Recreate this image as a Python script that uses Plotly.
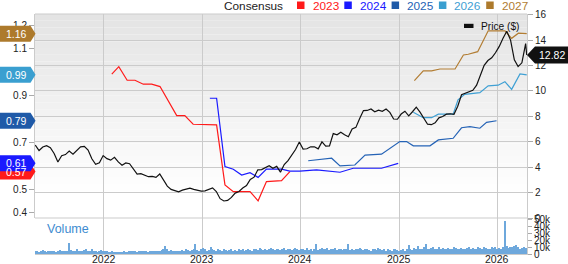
import pandas as pd
import plotly.graph_objects as go

# ---------------- data ----------------
PRICE_START = "2021-04-22"          # biweekly closes
price = [5.73, 5.31, 5.59, 5.69, 5.53, 5.08, 4.41, 4.90, 4.99, 5.26,
         5.02, 5.29, 5.60, 5.64, 5.35, 4.66, 4.23, 4.34, 4.91, 4.67,
         4.55, 4.77, 4.41, 4.15, 4.33, 4.27, 3.87, 3.46, 3.49, 3.34,
         3.25, 3.28, 3.20, 3.46, 2.94, 2.51, 2.25, 2.13, 2.06, 2.19,
         2.30, 2.35, 2.25, 2.16, 2.12, 2.14, 2.24, 2.37, 2.08, 1.52,
         1.34, 1.38, 1.62, 1.96, 2.09, 2.36, 2.55, 3.03, 3.21, 3.79,
         3.81, 3.93, 4.11, 3.91, 4.06, 3.61, 4.21, 4.51, 4.91, 5.39,
         5.98, 5.42, 5.45, 5.60, 5.60, 5.44, 5.99, 5.66, 5.67, 6.64,
         6.54, 6.74, 6.55, 6.39, 7.00, 7.13, 7.83, 8.45, 8.46, 8.58,
         8.36, 8.49, 8.40, 8.57, 8.31, 7.79, 7.77, 8.18, 8.40, 8.04,
         8.36, 8.72, 8.33, 7.90, 7.38, 7.34, 7.49, 7.88, 7.99, 8.17,
         8.20, 8.16, 8.79, 9.70, 9.80, 9.89, 10.05, 10.45, 11.22, 12.01,
         12.39, 12.60, 13.00, 13.50, 14.14, 14.70, 14.00, 12.45, 11.91, 12.21,
         13.72]
PRICE_LAST_DATE = "2026-04-20"
PRICE_LAST = 12.82

c2023_dates = ["2022-01-31", "2022-02-26", "2022-03-29", "2022-04-27", "2022-05-28",
               "2022-06-28", "2022-07-29", "2022-09-29", "2022-10-29", "2022-11-29",
               "2023-02-24", "2023-03-27", "2023-04-27", "2023-06-28", "2023-07-28",
               "2023-08-28", "2023-10-23", "2023-11-23"]
c2023 = [0.991, 1.023, 0.965, 0.965, 0.948, 0.948, 0.938, 0.814, 0.814, 0.777,
         0.774, 0.518, 0.489, 0.489, 0.450, 0.532, 0.536, 0.575]

c2024_dates = ["2023-01-30", "2023-02-24", "2023-03-27", "2023-04-27", "2023-05-28",
               "2023-06-28", "2023-07-28", "2023-08-28", "2023-10-23", "2023-11-23",
               "2023-12-30", "2024-03-01", "2024-05-27", "2024-07-15", "2024-10-28",
               "2024-12-29"]
c2024 = [0.888, 0.888, 0.596, 0.585, 0.560, 0.570, 0.550, 0.585, 0.585, 0.577,
         0.577, 0.582, 0.572, 0.589, 0.589, 0.610]

c2025_dates = ["2024-01-30", "2024-03-01", "2024-04-26", "2024-05-27", "2024-07-21",
               "2024-08-28", "2024-10-28", "2025-01-04", "2025-01-29", "2025-02-23",
               "2025-04-26", "2025-05-27", "2025-07-21", "2025-08-21", "2025-09-21",
               "2025-10-28", "2025-11-22", "2025-12-29"]
c2025 = [0.621, 0.624, 0.632, 0.599, 0.603, 0.645, 0.649, 0.703, 0.703, 0.685,
         0.685, 0.710, 0.717, 0.762, 0.767, 0.760, 0.785, 0.792]

c2026_dates = ["2025-02-23", "2025-04-01", "2025-05-02", "2025-05-27", "2025-07-21",
               "2025-08-08", "2025-09-02", "2025-09-27", "2025-10-28", "2025-11-28",
               "2026-01-04", "2026-01-29", "2026-02-23", "2026-03-26", "2026-04-20"]
c2026 = [0.828, 0.805, 0.805, 0.820, 0.820, 0.881, 0.905, 0.909, 0.912, 0.941,
         0.944, 0.959, 0.926, 0.992, 0.988]

c2027_dates = ["2025-02-27", "2025-04-01", "2025-05-02", "2025-06-02", "2025-07-28",
               "2025-08-28", "2025-09-15", "2025-10-20", "2025-11-28", "2026-01-29",
               "2026-02-23", "2026-03-20", "2026-04-20"]
c2027 = [0.963, 1.005, 1.005, 1.013, 1.013, 1.073, 1.076, 1.087, 1.176, 1.176,
         1.144, 1.166, 1.164]

VOL_START = "2021-04-22"            # weekly volume, thousands of shares
vol_2021 = [4, 5, 3, 4, 6, 4, 3, 5, 4, 4, 5, 3, 4, 6, 5, 4, 5, 4, 16, 6, 4, 5, 7, 4, 5,
            4, 6, 8, 5, 4, 7, 5, 4, 3, 5, 6, 4]
vol_2022 = [5, 4, 3, 3, 4, 2, 3, 3, 2, 3, 4, 3, 3, 5, 4, 4, 5, 3, 4, 5, 4, 4, 5, 3, 4, 4,
            4, 5, 4, 5, 6, 8, 12, 7, 5, 6, 4, 5, 5, 4, 5, 6, 5, 7, 6, 5, 6, 8, 14, 6, 5, 7]
vol_2023 = [9, 7, 5, 6, 10, 8, 6, 5, 7, 6, 5, 8, 6, 5, 6, 7, 5, 6, 5, 7, 6, 8, 5, 6, 7, 6,
            5, 7, 8, 6, 9, 7, 6, 8, 6, 7, 9, 8, 6, 7, 8, 6, 7, 9, 6, 8, 7, 6, 8, 9, 7, 6]
vol_2024 = [7, 8, 6, 9, 6, 7, 5, 8, 15, 6, 7, 9, 8, 7, 9, 6, 8, 7, 9, 6, 7, 8, 6, 7, 8, 15,
            6, 7, 6, 8, 7, 9, 8, 6, 7, 8, 6, 5, 7, 8, 6, 9, 7, 6, 8, 5, 7, 6, 5, 7, 8, 6]
vol_2025 = [5, 6, 7, 5, 8, 13, 7, 6, 9, 8, 12, 7, 8, 10, 14, 8, 7, 9, 11, 8, 7, 10, 8, 9, 7, 8,
            9, 7, 8, 10, 9, 7, 8, 9, 8, 7, 9, 10, 8, 9, 7, 8, 10, 9, 8, 11, 9, 7, 8, 10, 9, 11]
vol_2026 = [8, 9, 7, 10, 48, 12, 9, 10, 11, 12, 13, 10, 8, 9, 10, 9]

years = ["2022", "2023", "2024", "2025", "2026"]
vol_ticks = [0, 10000, 20000, 30000, 40000, 50000]
vol_ticktext = ["0", "10k", "20k", "30k", "40k", "50k"]
left_ticks = [0.4, 0.5, 0.6, 0.7, 0.8, 0.9, 1.0, 1.1, 1.2]
right_ticks = [0, 2, 4, 6, 8, 10, 12, 14, 16]

# ---------------- figure ----------------
FONT = "Liberation Sans, Arial, sans-serif"
GRID = "#cbcbcb"
COL = {"2023": "#ff1a1a", "2024": "#1a1aff", "2025": "#2563b6",
       "2026": "#3fa0d4", "2027": "#b27d33"}
BADGE = {"2023": "#ff1a1a", "2024": "#1a1aff", "2025": "#1f5aa8",
         "2026": "#3a9fd0", "2027": "#ad7a2c"}

W, H = 568, 264
L, R, T, B = 35, 41, 14, 10
PW, PH = W - L - R, H - T - B
SPLIT = 36 / PH  # volume panel fraction


def px(x):
    return (x - L) / PW


def py(y):
    return (H - B - y) / PH


price_dates = list(pd.date_range(PRICE_START, periods=len(price), freq="14D")) + [pd.Timestamp(PRICE_LAST_DATE)]
price_vals = price + [PRICE_LAST]
volume = [v * 1000 for v in vol_2021 + vol_2022 + vol_2023 + vol_2024 + vol_2025 + vol_2026]
vol_dates = pd.date_range(VOL_START, periods=len(volume), freq="7D")

fig = go.Figure()

# background gradient for the price panel
nb = 30
for i in range(nb):
    f = i / (nb - 1)
    c = int(228 + (255 - 228) * min(1.0, f * 1.15))
    fig.add_shape(type="rect", xref="paper", yref="paper", x0=0, x1=1,
                  y0=1 - (1 - SPLIT) * (i + 1) / nb, y1=1 - (1 - SPLIT) * i / nb,
                  fillcolor=f"rgb({c},{c},{c})", line_width=0, layer="below")

cons = [("2023", c2023_dates, c2023), ("2024", c2024_dates, c2024),
        ("2025", c2025_dates, c2025), ("2026", c2026_dates, c2026),
        ("2027", c2027_dates, c2027)]
for name, d, v in cons:
    fig.add_trace(go.Scatter(x=pd.to_datetime(d), y=v, mode="lines", name=name,
                             line=dict(color=COL[name], width=1.2), yaxis="y",
                             showlegend=False, hoverinfo="skip"))

fig.add_trace(go.Scatter(x=price_dates, y=price_vals, mode="lines", name="Price ($)",
                         line=dict(color="#111111", width=1.2), yaxis="y2",
                         showlegend=False))

fig.add_trace(go.Bar(x=vol_dates, y=volume, yaxis="y3", marker_color="#6ea8dc",
                     marker_line_width=0, width=4.6 * 86400000, showlegend=False))

tickfont = dict(family=FONT, size=10, color="#222")
fig.update_layout(
    width=W, height=H, margin=dict(l=L, r=R, t=T, b=B, autoexpand=False),
    paper_bgcolor="white", plot_bgcolor="white", bargap=0,
    xaxis=dict(type="date", range=["2021-04-21", "2026-04-21"], anchor="y3",
               tickvals=[pd.Timestamp(y + "-01-01") for y in years], ticktext=years,
               showticklabels=False,
               showgrid=True, gridcolor=GRID, gridwidth=1, ticks="",
               showline=True, linecolor=GRID, zeroline=False, fixedrange=True,
               automargin=False),
    yaxis=dict(domain=[SPLIT, 1], range=[0.3765, 1.248], side="left", anchor="x",
               tickvals=left_ticks, ticktext=[f"{t:g}" for t in left_ticks],
               showgrid=False, zeroline=False, ticks="outside", ticklen=5,
               tickcolor="#aaaaaa", tickfont=tickfont, showline=True, linecolor=GRID,
               automargin=False),
    yaxis2=dict(domain=[SPLIT, 1], range=[0, 16.05], side="right", overlaying="y",
                anchor="x", tickvals=right_ticks, showgrid=True, gridcolor=GRID,
                zeroline=False, ticks="outside", ticklen=5, tickcolor="#aaaaaa",
                tickfont=tickfont, showline=True, linecolor=GRID, automargin=False),
    yaxis3=dict(domain=[0, SPLIT], range=[0, 52900], side="right", anchor="x",
                tickvals=vol_ticks, ticktext=vol_ticktext, showgrid=False,
                zeroline=False, ticks="outside", ticklen=4, tickcolor="#aaaaaa",
                tickfont=dict(family=FONT, size=10, color="#222"), showline=True,
                linecolor=GRID, automargin=False),
    font=dict(family=FONT),
)

# x-axis year labels (placed just under the volume panel)
for y in years:
    fig.add_annotation(x=pd.Timestamp(y + "-01-01"), y=py(259.3), xref="x", yref="paper",
                       text=y, showarrow=False, xanchor="center", yanchor="middle",
                       font=dict(family=FONT, size=10.5, color="#222"))

# panel separator and top border
fig.add_shape(type="line", xref="paper", yref="paper", x0=0, x1=1, y0=SPLIT, y1=SPLIT,
              line=dict(color=GRID, width=1))
fig.add_shape(type="line", xref="paper", yref="paper", x0=0, x1=1, y0=1, y1=1,
              line=dict(color=GRID, width=1))

# legend row
LEG_Y = 6.2
fig.add_annotation(x=px(285), y=py(LEG_Y), xref="paper", yref="paper", text="Consensus",
                   showarrow=False, xanchor="right", yanchor="middle",
                   font=dict(family=FONT, size=11.8, color="#222"))
for i, name in enumerate(["2023", "2024", "2025", "2026", "2027"]):
    sx = 297 + 47.3 * i
    fig.add_shape(type="rect", xref="paper", yref="paper", x0=px(sx), x1=px(sx + 7.5),
                  y0=py(9), y1=py(1.5), fillcolor=BADGE[name], line_width=0)
    fig.add_annotation(x=px(sx + 13.5), y=py(LEG_Y), xref="paper", yref="paper", text=name,
                       showarrow=False, xanchor="left", yanchor="middle",
                       font=dict(family=FONT, size=11.8, color=COL[name]))

# price legend
fig.add_shape(type="rect", xref="paper", yref="paper", x0=px(464), x1=px(473.5),
              y0=py(28), y1=py(23.8), fillcolor="#111", line_width=0)
fig.add_annotation(x=px(478.5), y=py(26), xref="paper", yref="paper", text="Price ($)",
                   showarrow=False, xanchor="left", yanchor="middle",
                   font=dict(family=FONT, size=10.2, color="#111"))

# volume label
fig.add_annotation(x=px(45), y=py(229), xref="paper", yref="paper", text="Volume",
                   showarrow=False, xanchor="left", yanchor="middle",
                   font=dict(family=FONT, size=12.5, color="#3d8bd0"))

# left badges (last consensus values)
for name, d, v in cons:
    val = v[-1]
    fig.add_shape(type="path", xref="paper", yref="y", xsizemode="pixel", ysizemode="pixel",
                  xanchor=px(0), yanchor=val,
                  path="M0,-8 L30.5,-8 L35.5,0 L30.5,8 L0,8 Z",
                  fillcolor=BADGE[name], line_width=0)
    fig.add_annotation(x=px(4), y=val, xref="paper", yref="y", text=f"{val:.2f}",
                       showarrow=False, xanchor="left", yanchor="middle",
                       font=dict(family=FONT, size=10.5, color="white"))

# right price badge
fig.add_shape(type="path", xref="paper", yref="y2", xsizemode="pixel", ysizemode="pixel",
              xanchor=1, yanchor=PRICE_LAST,
              path="M0,0 L8,8.5 L41,8.5 L41,-8.5 L8,-8.5 Z",
              fillcolor="#111", line_width=0)
fig.add_annotation(x=px(537), y=PRICE_LAST, xref="paper", yref="y2", text=f"{PRICE_LAST:.2f}",
                   showarrow=False, xanchor="left", yanchor="middle",
                   font=dict(family=FONT, size=10.5, color="white"))

fig.write_html("out.html")
